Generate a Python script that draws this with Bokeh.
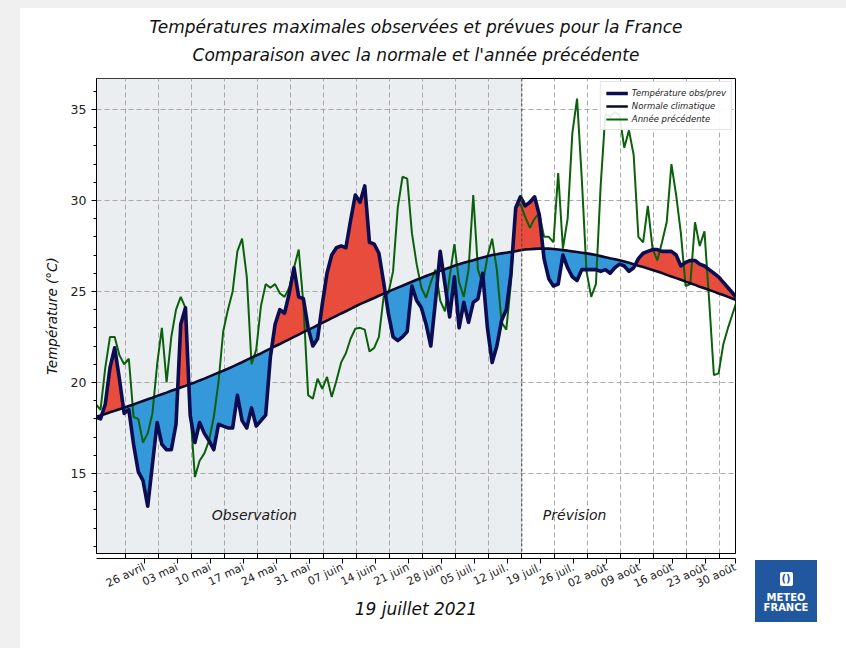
import math
import numpy as np
import pandas as pd
from bokeh.plotting import figure
from bokeh.models import (Range1d, FixedTicker, SingleIntervalTicker, BoxAnnotation,
                          Span, Label, Legend, LegendItem, Spacer, Title, LinearAxis, Div)
from bokeh.layouts import row, column
from bokeh.embed import file_html
from bokeh.resources import INLINE

# ---------------- data ----------------
first_day = "2021-04-19 17:00"

obs = [18.1, 18.0, 18.8, 20.8, 21.9, 20.2, 18.3, 18.5, 16.6, 15.1,
       14.6, 13.2, 15.5, 17.8, 16.6, 16.3, 16.3, 17.7, 23.2, 24.1,
       18.2, 16.7, 17.8, 17.2, 16.8, 16.3, 17.7, 17.6, 17.5, 17.5,
       19.3, 17.9, 17.5, 18.6, 17.6, 17.9, 18.2, 21.4, 23.2, 24.0,
       23.8, 24.9, 26.3, 24.7, 24.6, 23.0, 22.0, 22.4, 24.3, 26.0,
       27.0, 27.4, 27.5, 27.4, 28.9, 30.3, 29.9, 30.8, 27.7, 27.6,
       27.1, 25.5, 23.8, 22.5, 22.3, 22.5, 22.8, 25.3, 24.5, 24.1,
       23.2, 22.0, 24.5, 27.2, 25.4, 23.6, 25.8, 23.0, 24.4, 23.3,
       24.4, 24.6, 26.0, 23.0, 21.1, 22.0, 23.4, 24.0, 26.0, 29.6,
       30.2, 29.7, 29.9, 30.2, 29.2, 26.8, 25.7, 25.3, 25.4, 27.0,
       26.3, 25.8, 25.6, 26.2, 26.2, 26.2, 26.2, 26.1, 26.2, 26.0,
       26.3, 26.5, 26.4, 26.1, 26.3, 26.8, 27.1, 27.2, 27.3, 27.3,
       27.2, 27.2, 27.2, 27.0, 26.4, 26.6, 26.7, 26.7, 26.5, 26.4,
       26.2, 26.0, 25.8, 25.5, 25.2, 24.9, 24.6]

normale = [18.10, 18.19, 18.27, 18.36, 18.44, 18.53, 18.61, 18.70,
           18.79, 18.89, 18.98, 19.07, 19.16, 19.26, 19.35,
           19.44, 19.54, 19.63, 19.72, 19.81, 19.91, 20.00,
           20.11, 20.21, 20.32, 20.43, 20.54, 20.64, 20.75,
           20.87, 20.99, 21.11, 21.24, 21.36, 21.48, 21.60,
           21.73, 21.86, 21.99, 22.11, 22.24, 22.37, 22.50,
           22.63, 22.76, 22.89, 23.01, 23.14, 23.27, 23.40,
           23.53, 23.66, 23.79, 23.91, 24.04, 24.17, 24.30,
           24.41, 24.53, 24.64, 24.76, 24.87, 24.99, 25.10,
           25.21, 25.31, 25.42, 25.53, 25.64, 25.74, 25.85,
           25.94, 26.04, 26.13, 26.22, 26.31, 26.41, 26.50,
           26.57, 26.64, 26.71, 26.79, 26.86, 26.93, 27.00,
           27.04, 27.09, 27.13, 27.17, 27.21, 27.26, 27.30,
           27.32, 27.34, 27.35, 27.35, 27.35, 27.33, 27.30,
           27.27, 27.24, 27.20, 27.17, 27.13, 27.09, 27.05,
           27.00, 26.94, 26.88, 26.82, 26.77, 26.71, 26.65,
           26.57, 26.49, 26.41, 26.34, 26.26, 26.18, 26.10,
           26.01, 25.91, 25.82, 25.73, 25.64, 25.54, 25.45,
           25.36, 25.26, 25.17, 25.08, 24.99, 24.89, 24.80,
           24.70, 24.60, 24.50]

annee_prec = [18.8, 18.5, 20.8, 22.5, 22.5, 21.5, 21.0, 21.3, 18.1, 18.0,
              16.7, 17.2, 18.3, 21.0, 23.0, 20.0, 22.5, 24.0, 24.7, 24.1,
              18.5, 14.8, 15.7, 16.1, 16.8, 18.1, 20.0, 22.8, 24.0, 25.0,
              27.2, 27.9, 25.8, 21.0, 21.8, 24.2, 25.4, 25.2, 25.4, 24.9,
              24.7, 25.2, 26.3, 27.3, 24.3, 19.3, 19.1, 20.2, 19.65, 20.3,
              19.2, 20.1, 21.1, 21.6, 22.4, 22.95, 23.0, 22.9, 21.7, 21.9,
              22.5, 24.7, 24.9, 26.1, 29.6, 31.3, 31.2, 28.2, 26.5, 25.2,
              24.65, 25.5, 26.2, 24.5, 23.9, 25.8, 27.6, 25.5, 24.7, 26.2,
              30.3, 26.2, 25.4, 26.9, 27.9, 26.2, 23.3, 22.9, 25.5, 29.6,
              29.8, 29.1, 28.5, 29.0, 29.3, 28.0, 28.0, 27.7, 31.5, 27.35,
              29.0, 33.7, 35.6, 31.2, 26.1, 24.7, 25.4, 30.8, 34.75, 34.6,
              34.85, 34.7, 32.9, 33.85, 32.5, 28.0, 27.7, 29.7, 27.35, 26.7,
              27.7, 28.8, 32.0, 30.3, 28.2, 25.3, 25.4, 28.8, 27.5, 28.3,
              24.5, 20.4, 20.5, 22.1, 23.0, 23.8, 24.6]

tick_first = "2021-04-26"
tick_labels = ["26 avril", "03 mai", "10 mai", "17 mai", "24 mai", "31 mai",
               "07 juin", "14 juin", "21 juin", "28 juin", "05 juil.", "12 juil.",
               "19 juil.", "26 juil.", "02 août", "09 août", "16 août", "23 août",
               "30 août"]
date_analyse = "2021-07-19"
title_1 = "Températures maximales observées et prévues pour la France"
title_2 = "Comparaison avec la normale et l'année précédente"

# ---------------- helpers ----------------
def ms(ts):
    return pd.Timestamp(ts).value / 1e6

DAY = 86400000.0
dates = pd.date_range(first_day, periods=len(obs), freq="D")
x = np.array([ms(d) for d in dates])
o = np.array(obs, dtype=float)
n = np.array(normale, dtype=float)
g = np.array(annee_prec, dtype=float)

# fill geometry with exact crossing points
fx, fo, fn = [], [], []
for i in range(len(x)):
    if i > 0:
        d0 = o[i - 1] - n[i - 1]
        d1 = o[i] - n[i]
        if d0 * d1 < 0:
            t = d0 / (d0 - d1)
            xc = x[i - 1] + t * (x[i] - x[i - 1])
            yc = n[i - 1] + t * (n[i] - n[i - 1])
            fx.append(xc); fo.append(yc); fn.append(yc)
    fx.append(x[i]); fo.append(o[i]); fn.append(n[i])
fx = np.array(fx); fo = np.array(fo); fn = np.array(fn)

tick_dates = pd.date_range(tick_first, periods=len(tick_labels), freq="7D")
tick_ms = [int(ms(d)) for d in tick_dates]
t0 = ms(tick_first)
x_start = t0 - 6.147 * DAY
x_end = t0 + 129.29 * DAY

FONT = "DejaVu Sans"
GRAY_PAGE = {"background-color": "#f0f0f0"}

p = figure(width=729, height=640, x_axis_type="datetime",
           x_range=Range1d(x_start, x_end),
           y_range=Range1d(10.6, 36.7),
           output_backend="svg", toolbar_location=None,
           min_border_left=76, min_border_right=14,
           min_border_top=70, min_border_bottom=95,
           background_fill_color="white", border_fill_color="white")

# titles: p.title is the outer line, the added Title sits next to the plot
p.title.text = title_1
sub = Title(text=title_2)
p.add_layout(sub, "above")
for t in (p.title, sub):
    t.align = "center"
    t.text_font = FONT
    t.text_font_size = "17px"
    t.text_font_style = "italic"
    t.text_color = "#111111"
    t.offset = 0
sub.standoff = 27
try:
    p.title.standoff = -14
except Exception:
    p.title.standoff = 0

# observation background
p.add_layout(BoxAnnotation(right=ms(date_analyse), fill_color="#eaeef0",
                           fill_alpha=1.0, line_alpha=0, level="image"))

# fills
p.varea(x=fx, y1=fn, y2=np.maximum(fo, fn), fill_color="#e74c3c")
p.varea(x=fx, y1=fn, y2=np.minimum(fo, fn), fill_color="#3498db")

r_prev = p.line(x, g, line_color="#0b600b", line_width=2)
r_norm = p.line(x, n, line_color="#0a0a2a", line_width=2.6)
r_obs = p.line(x, o, line_color="#0c0c50", line_width=3.6, line_join="round")

p.add_layout(Span(location=ms(date_analyse), dimension="height",
                  line_color="#444444", line_dash="3 2", line_width=1))

# labels
p.add_layout(Label(x=t0 + 27.3 * DAY, y=12.7, text="Observation",
                   text_font=FONT, text_font_style="italic", text_font_size="14px",
                   text_align="center", text_baseline="middle", text_color="#1a1a1a"))
p.add_layout(Label(x=t0 + 95.2 * DAY, y=12.7, text="Prévision",
                   text_font=FONT, text_font_style="italic", text_font_size="14px",
                   text_align="center", text_baseline="middle", text_color="#1a1a1a"))

# legend
legend = Legend(items=[LegendItem(label="Température obs/prev", renderers=[r_obs]),
                       LegendItem(label="Normale climatique", renderers=[r_norm]),
                       LegendItem(label="Année précédente", renderers=[r_prev])],
                location="top_right")
legend.label_text_font = FONT
legend.label_text_font_size = "8.5px"
legend.label_text_font_style = "italic"
legend.label_text_color = "#222222"
legend.glyph_width = 22
legend.glyph_height = 10
legend.label_height = 11
legend.label_standoff = 4
legend.spacing = 2
legend.padding = 5
legend.margin = 3
legend.border_line_color = "#cccccc"
legend.background_fill_color = "white"
legend.background_fill_alpha = 0.9
p.add_layout(legend)

# x axis: tick marks on the main axis, centred rotated labels on a second axis
p.xaxis.ticker = FixedTicker(ticks=tick_ms)
p.xaxis.major_label_text_font_size = "1px"
p.xaxis.major_label_text_alpha = 0
p.xaxis.major_label_standoff = 0
p.xaxis.minor_tick_line_color = None

label_shift = 4.0 * DAY
lab_ticks = [int(min(t + label_shift, x_end - 0.05 * DAY)) for t in tick_ms]
xlab_axis = LinearAxis(ticker=FixedTicker(ticks=lab_ticks),
                       major_label_overrides={t: lab for t, lab in zip(lab_ticks, tick_labels)},
                       major_label_orientation=math.radians(25),
                       major_tick_out=0, major_tick_in=0, minor_tick_line_color=None,
                       axis_line_color=None, major_label_standoff=3,
                       major_label_text_font=FONT, major_label_text_font_size="11px",
                       major_label_text_color="#222222",
                       axis_label="19 juillet 2021", axis_label_text_font=FONT,
                       axis_label_text_font_size="17px", axis_label_text_font_style="italic",
                       axis_label_text_color="#111111", axis_label_standoff=0)
p.add_layout(xlab_axis, "below")

p.yaxis.ticker = SingleIntervalTicker(interval=5, num_minor_ticks=5)
p.yaxis.axis_label = "Température (°C)"
p.yaxis.axis_label_text_font = FONT
p.yaxis.axis_label_text_font_size = "13.5px"
p.yaxis.axis_label_text_font_style = "italic"
p.yaxis.axis_label_text_color = "#111111"
p.yaxis.axis_label_standoff = 8
p.yaxis.minor_tick_out = 3
p.yaxis.minor_tick_in = 0
p.yaxis.major_label_text_font = FONT
p.yaxis.major_label_text_color = "#222222"
p.yaxis.major_label_text_font_size = "12.5px"
p.yaxis.major_label_standoff = 5

for ax in (p.xaxis, p.yaxis):
    ax.major_tick_out = 5
    ax.major_tick_in = 0
    ax.axis_line_color = "black"
    ax.major_tick_line_color = "black"

p.grid.grid_line_color = "#aaaaaa"
p.grid.grid_line_dash = "5 3"
p.grid.grid_line_width = 1
p.outline_line_color = "black"
p.outline_line_width = 1
p.outline_line_alpha = 1

# Meteo-France badge
logo = Div(width=62, height=62, margin=0, text=(
    '<div style="width:62px;height:62px;background:#21579f;color:white;'
    'font-family:\'DejaVu Sans\';font-weight:bold;font-size:10px;line-height:10px;'
    'text-align:center;box-sizing:border-box;padding-top:12px;">'
    '<div style="width:13px;height:14px;margin:0 auto 7px auto;background:white;'
    'border-radius:2px;color:#21579f;font-size:10px;line-height:14px;">()</div>'
    'METEO<br>FRANCE</div>'))

logo_col = column(Spacer(width=97, height=552),
                  row(Spacer(width=6, height=62), logo))

page = column(Spacer(width=846, height=8, styles=GRAY_PAGE),
              row(Spacer(width=20, height=640, styles=GRAY_PAGE), p, logo_col))

open("out.html", "w").write(file_html(page, INLINE))
